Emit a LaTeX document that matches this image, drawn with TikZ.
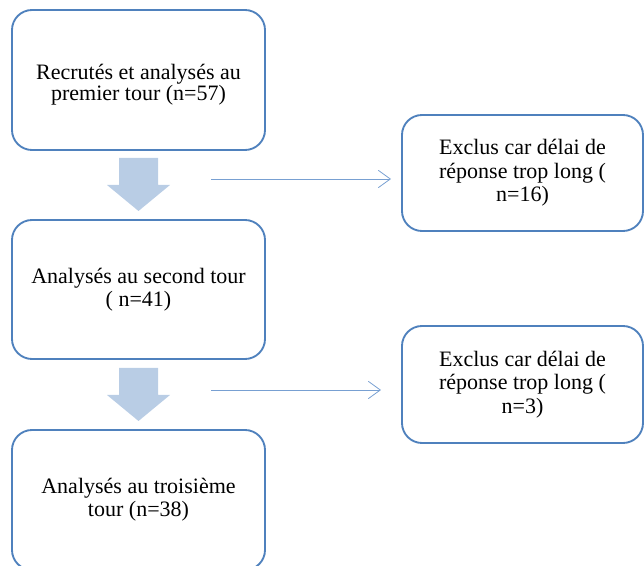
\documentclass[tikz,border=0pt]{standalone}
\usepackage{fontspec}
\setmainfont{Liberation Serif}
\usetikzlibrary{arrows.meta}
\definecolor{boxblue}{RGB}{79,129,189}
\definecolor{fillblue}{RGB}{185,205,229}
\definecolor{lineblue}{RGB}{120,160,210}
\tikzset{
  stagebox/.style={draw=boxblue, line width=1.4pt, rounded corners=15pt, align=center,
    minimum width=189.75pt, inner sep=0pt, font=\fontsize{16.5}{17}\selectfont},
  stagetext/.style={align=center, inner sep=0pt, font=\fontsize{16.5}{16}\selectfont},
  exclbox/.style={draw=boxblue, line width=1.4pt, rounded corners=15pt, align=center,
    minimum width=180.75pt, inner sep=0pt, font=\fontsize{16.5}{17.6}\selectfont},
  blockarrow/.style={fill=fillblue, draw=none},
  thinarrow/.style={draw=lineblue, line width=0.6pt, -{Straight Barb[length=9pt, width=13pt, line width=0.6pt]}}
}
\begin{document}
\begin{tikzpicture}[x=0.75pt, y=-0.75pt]
\useasboundingbox (0,0) rectangle (644,566);
\clip (0,0) rectangle (644,566);
% left column
\node[stagebox, minimum height=105pt] (b1) at (138.5,80) {};
\node[stagetext] (b1t) at ([yshift=-3.5pt]b1.center) {Recrutés et analysés au\\premier tour (n=57)};
\node[stagebox, minimum height=104.25pt] (b2) at (138.5,289.5) {Analysés au second tour\\( n=41)};
\node[stagebox, minimum height=105pt] (b3) at (138.5,500) {Analysés au troisième\\tour (n=38)};
% right column
\node[exclbox, minimum height=87pt] (e1) at (522.5,173) {Exclus car délai de\\réponse trop long (\\n=16)};
\node[exclbox, minimum height=87.75pt] (e2) at (522.5,384.5) {Exclus car délai de\\réponse trop long (\\n=3)};
% block arrows
\path[blockarrow] (119,158) -- (158,158) -- (158,185) -- (170,185) -- (138.5,211) -- (107,185) -- (119,185) -- cycle;
\path[blockarrow] (119,368) -- (158,368) -- (158,395) -- (170,395) -- (138.5,421) -- (107,395) -- (119,395) -- cycle;
% thin arrows
\coordinate (s1) at (211,179);
\coordinate (t1) at (391,179);
\coordinate (s2) at (211,390);
\coordinate (t2) at (381,390);
\draw[thinarrow] (s1) -- (t1);
\draw[thinarrow] (s2) -- (t2);
\end{tikzpicture}
\end{document}
